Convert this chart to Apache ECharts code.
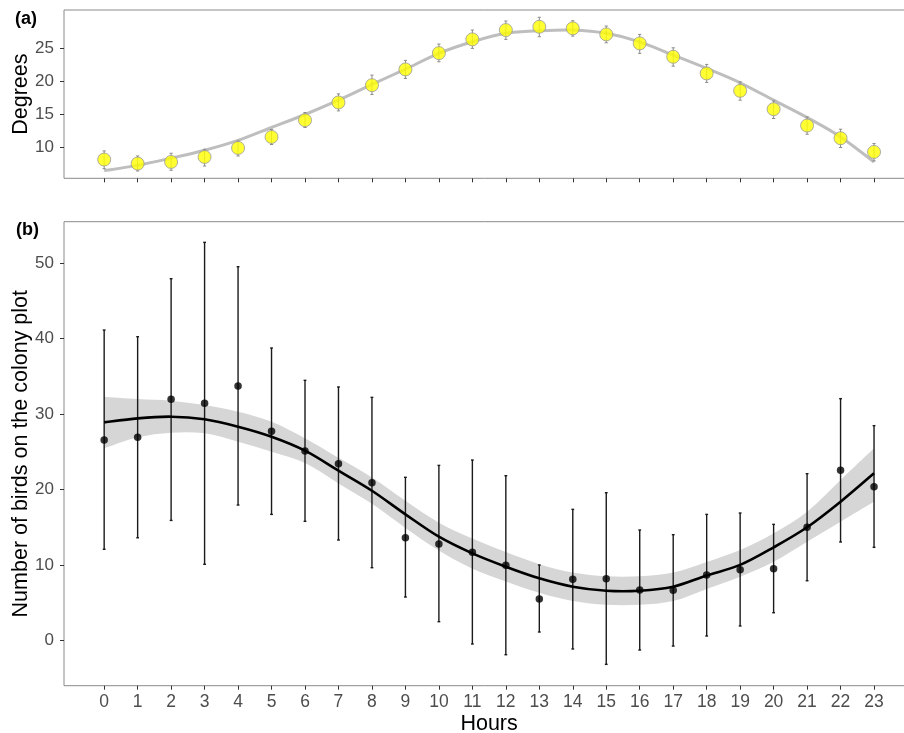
<!DOCTYPE html>
<html><head><meta charset="utf-8">
<script src="https://cdn.jsdelivr.net/npm/echarts@6/dist/echarts.min.js"></script>
<style>html,body{margin:0;padding:0;background:#fff}#c{width:904px;height:733px}</style>
</head><body><div id="c"></div>
<script>
// ---------- data ----------
const hours = [0,1,2,3,4,5,6,7,8,9,10,11,12,13,14,15,16,17,18,19,20,21,22,23];

// Panel (a): temperature (degrees)
const tempMean = [8.08,7.47,7.72,8.48,9.85,11.52,14.07,16.77,19.4,21.8,24.28,26.37,27.79,28.29,28.05,27.13,25.76,23.72,21.19,18.54,15.75,13.26,11.33,9.24];
const tempLow  = [6.7,6.34,6.45,7.1,8.63,10.37,12.96,15.49,17.99,20.43,22.96,25.0,26.37,26.77,26.87,25.85,24.24,22.3,19.82,17.12,14.33,11.94,9.91,7.87];
const tempHigh = [9.4,8.63,9.04,9.65,10.91,12.65,15.24,18.08,20.93,23.17,25.66,27.79,29.16,29.73,29.2,28.4,27.13,25.09,22.56,19.91,17.01,14.57,12.7,10.52];
const tempFit  = [6.4,7.2,8.3,9.5,11.0,12.96,14.94,17.12,19.51,21.84,24.24,26.0,27.29,27.68,27.79,27.29,26.0,23.98,21.95,19.76,17.12,14.48,11.52,7.71];

// Panel (b): number of birds on the colony plot
const birdMean = [26.56,26.92,31.96,31.43,33.73,27.72,25.1,23.42,20.9,13.6,12.77,11.67,9.95,5.48,8.09,8.17,6.67,6.63,8.66,9.37,9.5,14.99,22.55,20.37];
const birdLow  = [12.07,13.6,15.9,10.08,17.94,16.7,15.78,13.3,9.63,5.74,2.47,-0.49,-1.91,1.1,-1.15,-3.19,-1.29,-0.76,0.57,1.9,3.66,7.9,13.04,12.33];
const birdHigh = [41.15,40.27,47.96,52.78,49.55,38.77,34.48,33.6,32.22,21.62,23.2,23.91,21.83,9.99,17.37,19.58,14.63,14.01,16.7,16.88,15.38,22.1,32.05,28.47];
const birdFit  = [28.9,29.44,29.66,29.31,28.33,27.0,25.15,22.5,19.84,16.71,13.74,11.53,9.76,8.22,7.11,6.58,6.58,7.11,8.6,10.0,12.33,14.99,18.38,22.15];
const birdFitLow  = [25.46,26.92,27.53,27.45,26.34,25.0,23.5,20.8,18.1,14.9,11.9,9.5,7.8,6.3,5.2,4.7,4.7,5.2,6.8,8.44,10.42,13.08,15.73,18.38];
const birdFitHigh = [32.31,32.0,31.78,31.2,30.32,28.99,26.8,24.2,21.6,18.5,15.6,13.5,11.7,10.1,9.0,8.5,8.5,9.0,10.4,11.98,14.19,17.06,21.26,25.46];

// tick labels
const xTickLabels = hours;
const tempTicks = [10,15,20,25];
const birdTicks = [0,10,20,30,40,50];

// ---------- helpers ----------
const FONT = 'Liberation Sans, Arial, sans-serif';
const pairs = (xs, ys) => xs.map((x, i) => [x, ys[i]]);
const triples = (xs, lo, hi) => xs.map((x, i) => [x, lo[i], hi[i]]);

function errRender(capHalf, color, width) {
  return function (params, api) {
    const x = api.value(0);
    const p1 = api.coord([x, api.value(1)]);
    const p2 = api.coord([x, api.value(2)]);
    const style = { stroke: color, lineWidth: width };
    return { type: 'group', children: [
      { type: 'line', shape: { x1: p1[0], y1: p1[1], x2: p2[0], y2: p2[1] }, style },
      { type: 'line', shape: { x1: p1[0] - capHalf, y1: p1[1], x2: p1[0] + capHalf, y2: p1[1] }, style },
      { type: 'line', shape: { x1: p2[0] - capHalf, y1: p2[1], x2: p2[0] + capHalf, y2: p2[1] }, style }
    ]};
  };
}

// Smooth curves (Catmull-Rom) through axis coordinates
function catmull(pts) {
  let d = '';
  for (let i = 0; i < pts.length - 1; i++) {
    const p0 = pts[Math.max(i - 1, 0)], p1 = pts[i], p2 = pts[i + 1], p3 = pts[Math.min(i + 2, pts.length - 1)];
    const c1 = [p1[0] + (p2[0] - p0[0]) / 6, p1[1] + (p2[1] - p0[1]) / 6];
    const c2 = [p2[0] - (p3[0] - p1[0]) / 6, p2[1] - (p3[1] - p1[1]) / 6];
    d += ' C' + c1[0] + ',' + c1[1] + ' ' + c2[0] + ',' + c2[1] + ' ' + p2[0] + ',' + p2[1];
  }
  return d;
}
function ribbonRender(params, api) {
  if (params.dataIndex !== 0) return null;
  const up = hours.map((h, i) => api.coord([h, birdFitHigh[i]]));
  const lo = hours.map((h, i) => api.coord([h, birdFitLow[i]])).reverse();
  const d = 'M' + up[0][0] + ',' + up[0][1] + catmull(up) + ' L' + lo[0][0] + ',' + lo[0][1] + catmull(lo) + ' Z';
  return { type: 'path', shape: { pathData: d }, style: { fill: '#D6D6D6', stroke: null } };
}
function lineRender(values, color, width) {
  return function (params, api) {
    if (params.dataIndex !== 0) return null;
    const pts = hours.map((h, i) => api.coord([h, values[i]]));
    const d = 'M' + pts[0][0] + ',' + pts[0][1] + catmull(pts);
    return { type: 'path', shape: { pathData: d }, style: { fill: null, stroke: color, lineWidth: width, lineJoin: 'round' } };
  };
}

const yLabelStyle = { color: '#4D4D4D', fontSize: 17, fontFamily: FONT };
const xLabelStyle = { color: '#4D4D4D', fontSize: 17.5, fontFamily: FONT };
const nameStyle = { color: '#000', fontSize: 21.5, fontFamily: FONT };

function xAxisDef(gridIndex, showLabels, name) {
  return {
    type: 'value', gridIndex, min: -1.2, max: 24.2,
    name: name || '', nameLocation: 'middle', nameGap: 27, nameMoveOverlap: false, nameTextStyle: nameStyle,
    axisLine: { show: false, onZero: false },
    axisTick: { show: true, length: 4, customValues: hours, lineStyle: { color: '#333', width: 1 } },
    axisLabel: { show: showLabels, customValues: xTickLabels, margin: 7, ...xLabelStyle },
    splitLine: { show: false }
  };
}
function yAxisDef(gridIndex, min, max, ticks, name) {
  return {
    type: 'value', gridIndex, min, max,
    name, nameLocation: 'middle', nameGap: 32, nameMoveOverlap: false, nameTextStyle: nameStyle,
    axisLine: { show: false, onZero: false },
    axisTick: { show: true, length: 4, customValues: ticks, lineStyle: { color: '#333', width: 1 } },
    axisLabel: { customValues: ticks, margin: 10, ...yLabelStyle },
    splitLine: { show: false }
  };
}

const option = {
  backgroundColor: '#fff',
  animation: false,
  grid: [
    { left: 64, top: 10, width: 850.2, height: 168.3, show: true, borderColor: '#8a8a8a', borderWidth: 1,
      containLabel: false, outerBoundsMode: 'none' },
    { left: 64, top: 221.7, width: 850.2, height: 464, show: true, borderColor: '#8a8a8a', borderWidth: 1,
      containLabel: false, outerBoundsMode: 'none' }
  ],
  xAxis: [ xAxisDef(0, false), xAxisDef(1, true, 'Hours') ],
  yAxis: [
    yAxisDef(0, 5.23, 30.84, tempTicks, 'Degrees'),
    yAxisDef(1, -6.02, 55.52, birdTicks, 'Number of birds on the colony plot')
  ],
  graphic: [
    { type: 'text', left: 15, top: 10, style: { text: '(a)', fontSize: 18, fontWeight: 'bold', fontFamily: FONT, fill: '#000' } },
    { type: 'text', left: 16, top: 221, style: { text: '(b)', fontSize: 18, fontWeight: 'bold', fontFamily: FONT, fill: '#000' } }
  ],
  series: [
    // panel (a)
    { type: 'custom', xAxisIndex: 0, yAxisIndex: 0, data: pairs(hours, tempFit),
      encode: { x: 0, y: 1 }, renderItem: lineRender(tempFit, '#BEBEBE', 3), z: 2 },
    { type: 'custom', xAxisIndex: 0, yAxisIndex: 0, data: triples(hours, tempLow, tempHigh),
      encode: { x: 0, y: [1, 2] }, renderItem: errRender(1.6, '#8c8c8c', 1), z: 3 },
    { type: 'scatter', xAxisIndex: 0, yAxisIndex: 0, data: pairs(hours, tempMean), symbol: 'circle', symbolSize: 13,
      itemStyle: { color: '#FFFF00', borderColor: '#9a9a9a', borderWidth: 1 }, z: 4 },
    // panel (b)
    { type: 'custom', xAxisIndex: 1, yAxisIndex: 1, data: triples(hours, birdFitLow, birdFitHigh),
      encode: { x: 0, y: [1, 2] }, renderItem: ribbonRender, z: 1 },
    { type: 'custom', xAxisIndex: 1, yAxisIndex: 1, data: triples(hours, birdLow, birdHigh),
      encode: { x: 0, y: [1, 2] }, renderItem: errRender(1.4, '#1a1a1a', 1.4), z: 3 },
    { type: 'custom', xAxisIndex: 1, yAxisIndex: 1, data: pairs(hours, birdFit),
      encode: { x: 0, y: 1 }, renderItem: lineRender(birdFit, '#000', 2.6), z: 4 },
    { type: 'scatter', xAxisIndex: 1, yAxisIndex: 1, data: pairs(hours, birdMean), symbol: 'circle', symbolSize: 7.5,
      itemStyle: { color: '#000' }, z: 5 }
  ]
};

const chart = echarts.init(document.getElementById('c'), null, { renderer: 'canvas' });
chart.setOption(option);
</script>
</body></html>
